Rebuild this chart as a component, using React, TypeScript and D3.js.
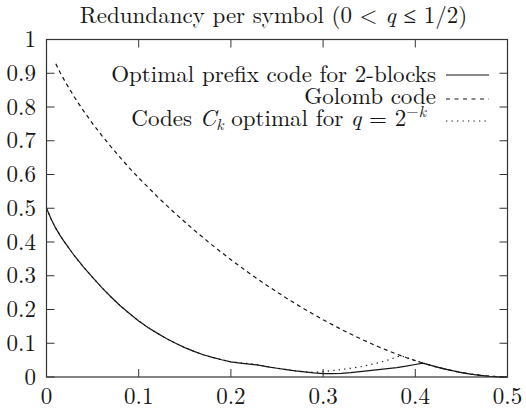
import React from "react";
import * as d3 from "d3";

// ---- data ----
const xTicks = [0, 0.1, 0.2, 0.3, 0.4, 0.5];
const yTicks = [0, 0.1, 0.2, 0.3, 0.4, 0.5, 0.6, 0.7, 0.8, 0.9, 1];

// Optimal prefix code for 2-blocks
const qBlocks = [0, 0.005, 0.01, 0.015, 0.02, 0.03, 0.04, 0.05, 0.06, 0.07, 0.08, 0.09, 0.1, 0.11, 0.12, 0.13, 0.14, 0.15, 0.16, 0.17, 0.18, 0.19, 0.2, 0.21, 0.22, 0.23, 0.24, 0.25, 0.26, 0.27, 0.28, 0.29, 0.3, 0.31, 0.32, 0.33, 0.34, 0.35, 0.36, 0.37, 0.38, 0.39, 0.4, 0.408, 0.42, 0.43, 0.44, 0.45, 0.46, 0.47, 0.48, 0.49, 0.5];
const rBlocks = [0.5, 0.468, 0.441, 0.418, 0.398, 0.36, 0.326, 0.295, 0.265, 0.237, 0.211, 0.188, 0.166, 0.147, 0.13, 0.114, 0.1, 0.087, 0.076, 0.066, 0.058, 0.051, 0.045, 0.041, 0.038, 0.035, 0.03, 0.026, 0.022, 0.018, 0.015, 0.012, 0.01, 0.01, 0.011, 0.013, 0.016, 0.019, 0.022, 0.025, 0.028, 0.032, 0.037, 0.041, 0.032, 0.025, 0.019, 0.013, 0.0085, 0.005, 0.0023, 0.0006, 0];

// Golomb code
const qGolomb = [0.0101, 0.015, 0.02, 0.03, 0.04, 0.05, 0.06, 0.07, 0.08, 0.09, 0.1, 0.12, 0.14, 0.16, 0.18, 0.2, 0.22, 0.24, 0.26, 0.28, 0.3, 0.32, 0.34, 0.36, 0.38, 0.39, 0.4, 0.42, 0.44, 0.46, 0.48, 0.5];
const rGolomb = [0.928, 0.901, 0.876, 0.8305, 0.789, 0.751, 0.7155, 0.682, 0.65, 0.619, 0.59, 0.535, 0.4835, 0.4354, 0.39, 0.3476, 0.3074, 0.2697, 0.234, 0.2008, 0.1696, 0.1406, 0.1139, 0.0895, 0.0677, 0.0577, 0.0484, 0.0319, 0.0186, 0.0085, 0.0023, 0];

// Codes C_k optimal for q = 2^-k
const qCk = [0, 0.005, 0.01, 0.015, 0.02, 0.03, 0.04, 0.05, 0.06, 0.07, 0.08, 0.09, 0.1, 0.11, 0.12, 0.13, 0.14, 0.15, 0.16, 0.17, 0.18, 0.19, 0.2, 0.21, 0.22, 0.23, 0.24, 0.25, 0.26, 0.27, 0.28, 0.29, 0.3, 0.31, 0.32, 0.33, 0.34, 0.35, 0.36, 0.37, 0.38, 0.384, 0.39, 0.4, 0.42, 0.44, 0.46, 0.48, 0.5];
const rCk = [0.5, 0.468, 0.441, 0.418, 0.398, 0.36, 0.326, 0.295, 0.265, 0.237, 0.211, 0.188, 0.166, 0.147, 0.13, 0.114, 0.1, 0.087, 0.076, 0.066, 0.058, 0.051, 0.045, 0.042, 0.04, 0.036, 0.031, 0.026, 0.022, 0.018, 0.015, 0.014, 0.016, 0.019, 0.022, 0.026, 0.03, 0.036, 0.042, 0.05, 0.059, 0.064, 0.0577, 0.0484, 0.0319, 0.0186, 0.0085, 0.0023, 0];

const W = 526;
const H = 413;
const FONT = "'Latin Modern Roman', 'Liberation Serif', serif";
const INK = "#161616";
const TXT: React.CSSProperties = { fontFamily: FONT };

export default function App() {
  const x = d3.scaleLinear().domain([0, 0.5]).range([46.5, 507.5]);
  const y = d3.scaleLinear().domain([0, 1]).range([377, 39.5]);
  const line = d3
    .line<[number, number]>()
    .x((d) => x(d[0]))
    .y((d) => y(d[1]));
  const zip = (a: number[], b: number[]) => a.map((v, i) => [v, b[i]] as [number, number]);
  const tick = 8;
  const [x0, x1] = x.range();
  const [y0, y1] = y.range();

  return (
    <svg
      width={W}
      height={H}
      viewBox={`0 0 ${W} ${H}`}
      style={{ position: "absolute", left: 0, top: 0, background: "#fff" }}
    >
      <rect width={W} height={H} fill="#fff" />
      {/* title */}
      <text x={273.5} y={23} textAnchor="middle" fontSize={23} fill={INK} style={TXT}>
        Redundancy per symbol (0 &lt; <tspan fontStyle="italic">q</tspan> ≤ 1/2)
      </text>

      {/* ticks */}
      <g stroke="#333" strokeWidth={1}>
        {xTicks.map((t) => (
          <g key={"xt" + t}>
            <line x1={x(t)} x2={x(t)} y1={y0} y2={y0 - tick} />
            <line x1={x(t)} x2={x(t)} y1={y1} y2={y1 + tick} />
          </g>
        ))}
        {yTicks.map((t) => (
          <g key={"yt" + t}>
            <line x1={x0} x2={x0 + tick} y1={y(t)} y2={y(t)} />
            <line x1={x1} x2={x1 - tick} y1={y(t)} y2={y(t)} />
          </g>
        ))}
      </g>

      {/* tick labels */}
      {xTicks.map((t) => (
        <text key={"xl" + t} x={x(t)} y={404} textAnchor="middle" fontSize={23} fill={INK} style={TXT}>
          {d3.format("")(t)}
        </text>
      ))}
      {yTicks.map((t) => (
        <text key={"yl" + t} x={36} y={y(t) + 7.5} textAnchor="end" fontSize={23} fill={INK} style={TXT}>
          {d3.format("")(t)}
        </text>
      ))}

      {/* curves */}
      <g fill="none" stroke={INK} strokeWidth={1.2}>
        <path d={line(zip(qBlocks, rBlocks)) || ""} />
        <path d={line(zip(qGolomb, rGolomb)) || ""} strokeDasharray="4,3.5" />
        <path d={line(zip(qCk, rCk)) || ""} strokeDasharray="1.3,4.2" />
      </g>

      {/* frame */}
      <rect x={x0} y={y1} width={x1 - x0} height={y0 - y1} fill="none" stroke="#333" strokeWidth={1.2} />

      {/* legend */}
      <text x={436} y={81.5} textAnchor="end" fontSize={23} fill={INK} style={TXT}>
        Optimal prefix code for 2-blocks
      </text>
      <text x={436} y={103.5} textAnchor="end" fontSize={23} fill={INK} style={TXT}>
        Golomb code
      </text>
      <text x={426} y={126} textAnchor="end" fontSize={23} fill={INK} style={TXT}>
        Codes <tspan fontStyle="italic">C</tspan>
        <tspan fontStyle="italic" fontSize={16} dy={4}>k</tspan>
        <tspan dy={-4}> optimal for </tspan>
        <tspan fontStyle="italic">q</tspan> = 2
        <tspan fontSize={16} dy={-9}>−</tspan>
        <tspan fontSize={16} fontStyle="italic">k</tspan>
      </text>
      <g fill="none" stroke={INK} strokeWidth={1.2}>
        <line x1={446} x2={489} y1={75} y2={75} />
        <line x1={446} x2={489} y1={99} y2={99} strokeDasharray="4,4.5" />
        <line x1={446} x2={489} y1={121} y2={121} strokeDasharray="1.3,4.2" />
      </g>
    </svg>
  );
}
